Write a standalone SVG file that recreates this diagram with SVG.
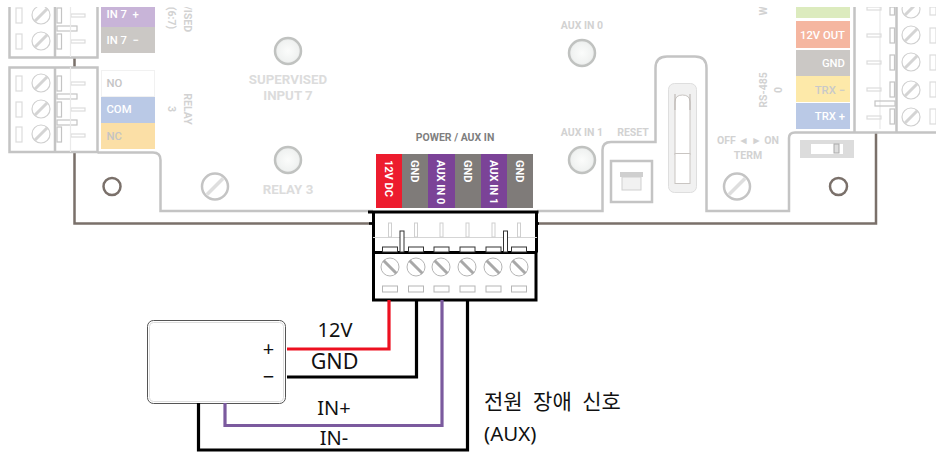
<svg xmlns="http://www.w3.org/2000/svg" width="936" height="452" viewBox="0 0 936 452">
<defs>
<radialGradient id="led"><stop offset="0" stop-color="#fbfcfb"/><stop offset="0.8" stop-color="#f0f2f1"/><stop offset="1" stop-color="#e2e4e3"/></radialGradient>
<g id="screwL"><circle r="9" fill="#fff" stroke="#d0d0d0" stroke-width="1.200"/><path d="M-6.500 6.500L6.500-6.500" stroke="#d4d4d4" stroke-width="3"/></g>
<g id="screwB"><circle r="9" fill="#fff" stroke="#b5b5b5" stroke-width="1"/><path d="M-6.500-6.500L6.500 6.500" stroke="#a8a8a8" stroke-width="3"/></g>
</defs>
<style>
text{font-family:"Roboto","Liberation Sans",sans-serif;font-weight:500}
.w{font-family:"Noto Sans","Noto Sans CJK KR",sans-serif;font-weight:400;font-size:20px;fill:#111}
.f{fill:none;stroke:#c4c4c4;stroke-width:2.500}
.b{fill:none;stroke:#7a706a;stroke-width:2.500}
.t{fill:none;stroke:#dcdcdc;stroke-width:1.200}
.lab{font-size:11.300px;fill:#fff}
.pl{font-size:11px;font-weight:700;fill:#fff}
.g{fill:#dcdcdc;font-weight:700;text-anchor:middle;font-size:13.300px}
.g2{fill:#d2d2d2;font-weight:700;text-anchor:middle;font-size:10.500px}
.led{fill:url(#led);stroke:#c0c2c0;stroke-width:2.500}
</style>
<rect width="936" height="452" fill="#fff"/>
<g id="board-outline">
<path class="b" d="M74.500 58V67M74.500 152V223.500H373M537 223.500H876V132"/>
<path class="f" d="M97.500 152.500H153Q160.500 152.500 160.500 160V211H373M537 211H602.500V150Q602.500 142 611 142H655.500V68Q655.500 56.500 667 56.500H695Q706.500 56.500 706.500 68V211H789V138Q789 132.500 795 132.500H936"/>
<path class="f" d="M9.500 7V57.500H97.500V7M55 7V57.500M9.500 67.500H97.500V152H9.500ZM55 67.500V152M854.500 7V132M896.500 7V132"/>
</g>
<g id="left-terminal" class="t">
<rect x="16" y="8" width="6" height="15"/><rect x="16" y="34" width="6" height="15"/><rect x="16" y="76" width="6" height="15"/><rect x="16" y="102" width="6" height="15"/><rect x="16" y="127" width="6" height="15"/>
<g stroke="#c4c4c4"><rect x="57" y="8" width="4.500" height="15"/><rect x="57" y="34" width="4.500" height="15"/><rect x="57" y="76" width="4.500" height="15"/><rect x="57" y="102" width="4.500" height="15"/><rect x="57" y="127" width="4.500" height="15"/>
<rect x="57" y="26" width="20" height="5"/><rect x="57" y="94" width="20" height="5"/><rect x="57" y="120" width="20" height="5"/></g>
<rect x="71" y="14" width="14" height="3"/><rect x="71" y="40" width="14" height="3"/><rect x="71" y="82" width="14" height="3"/><rect x="71" y="108" width="14" height="3"/><rect x="71" y="134" width="14" height="3"/>
<path d="M70.500 7V57M70.500 67V152" stroke="#eaeaea"/>
<use href="#screwL" x="41" y="15"/><use href="#screwL" x="41" y="41"/><use href="#screwL" x="41" y="83"/><use href="#screwL" x="41" y="109"/><use href="#screwL" x="41" y="134"/>
</g>
<g id="left-labels">
<rect x="101" y="7" width="54" height="20" fill="#c8b4d8"/><rect x="101" y="27" width="54" height="26" fill="#cbc8c5"/>
<rect x="101.500" y="70.500" width="53" height="26" fill="#fff" stroke="#f1f1f1"/><rect x="101" y="97" width="54" height="26" fill="#bac9e6"/><rect x="101" y="123" width="54" height="26" fill="#fbdfa6"/>
<text class="lab" x="106.500" y="18" xml:space="preserve">IN 7  +</text><text class="lab" x="106.500" y="44" xml:space="preserve">IN 7  −</text>
<text class="lab" x="106.500" y="87" style="fill:#c4c4c4">NO</text><text class="lab" x="106.500" y="113">COM</text><text class="lab" x="106.500" y="140" style="fill:#c4c4c4">NC</text>
<text class="g2" transform="translate(184 19) rotate(90)">/ISED</text>
<text class="g2" transform="translate(168 18) rotate(90)">(6:7)</text>
<text class="g2" transform="translate(183.500 109) rotate(90)">RELAY</text>
<text class="g2" transform="translate(168 109) rotate(90)">3</text>
</g>
<g id="mount-left"><circle cx="112" cy="186.500" r="8.500" fill="#fff" stroke="#7a706a" stroke-width="2.500"/></g>
<g id="screw-relay"><circle cx="215" cy="186.500" r="13" fill="#fff" stroke="#c4c4c4" stroke-width="2.500"/><path d="M207 194.500L223 178.500" stroke="#dedede" stroke-width="3.500"/></g>
<g id="led-supervised"><circle class="led" cx="288" cy="51" r="13"/><text class="g" x="288" y="84">SUPERVISED</text><text class="g" x="288" y="100">INPUT 7</text></g>
<g id="led-relay"><circle class="led" cx="288" cy="160" r="13"/><text class="g" x="288" y="194">RELAY 3</text></g>
<g id="led-aux0"><circle class="led" cx="582" cy="53" r="13"/><text class="g2" x="582" y="29">AUX IN 0</text></g>
<g id="led-aux1"><circle class="led" cx="582" cy="160" r="13"/><text class="g2" x="582" y="136">AUX IN 1</text></g>
<g id="reset"><text class="g2" x="633" y="136">RESET</text><rect x="611" y="161" width="41" height="41" fill="#fff" stroke="#c4c4c4" stroke-width="2.500"/><rect x="620" y="172" width="23" height="5" fill="#cfcfcf"/><rect x="622" y="177" width="19" height="13" fill="#f1f1f1" stroke="#cfcfcf"/></g>
<g id="slider"><rect x="668.500" y="83.500" width="28" height="109" rx="6" fill="#f1f1f1" stroke="#dedede"/><path d="M675 155V102Q675 95 682.500 95Q690 95 690 102V155Z" fill="#fff" stroke="#c9c5c2"/><path d="M675 94V110M690 94V110" stroke="#b5afab"/><rect x="675" y="153.500" width="15" height="30" fill="#fff" stroke="#c9c5c2"/></g>
<g id="term"><text class="g2" x="748" y="144">OFF ◄ ► ON</text><text class="g2" x="748" y="159">TERM</text><circle cx="737" cy="186.500" r="13" fill="#fff" stroke="#c4c4c4" stroke-width="2.500"/><path d="M729 194.500L745 178.500" stroke="#dedede" stroke-width="3.500"/></g>
<g id="right-labels">
<rect x="796" y="7" width="54" height="11" fill="#dcebbe"/><rect x="796" y="21" width="54" height="27" fill="#f5b6a0"/><rect x="796" y="50" width="54" height="26" fill="#cbc8c5"/><rect x="796" y="76" width="54" height="26" fill="#fde9a9"/><rect x="796" y="103" width="54" height="26" fill="#bac9e6"/>
<text class="lab" x="845" y="39" text-anchor="end">12V OUT</text><text class="lab" x="845" y="67" text-anchor="end">GND</text><text class="lab" x="845" y="94" text-anchor="end" style="fill:#c9c9c9">TRX −</text><text class="lab" x="845" y="120" text-anchor="end">TRX +</text>
<text class="g2" transform="translate(767 90) rotate(-90)">RS-485</text><text class="g2" transform="translate(782 90) rotate(-90)">0</text><text class="g2" transform="translate(767 11) rotate(-90)">W</text>
</g>
<g id="right-terminal" class="t">
<path d="M880 7V129" stroke="#eaeaea"/>
<g stroke="#c4c4c4"><rect x="890" y="7" width="4.500" height="8"/><rect x="890" y="28" width="4.500" height="15"/><rect x="890" y="55" width="4.500" height="15"/><rect x="890" y="82" width="4.500" height="15"/><rect x="890" y="109" width="4.500" height="15"/>
<rect x="875" y="101" width="20" height="5"/></g>
<rect x="867" y="7" width="14" height="3"/><rect x="867" y="34" width="14" height="3"/><rect x="867" y="61" width="14" height="3"/><rect x="867" y="88" width="14" height="3"/><rect x="867" y="116" width="14" height="3"/>
<rect x="930" y="7" width="6" height="8"/><rect x="930" y="28" width="6" height="15"/><rect x="930" y="55" width="6" height="15"/><rect x="930" y="82" width="6" height="15"/><rect x="930" y="109" width="6" height="15"/>
<use href="#screwL" x="911" y="9"/><use href="#screwL" x="911" y="35"/><use href="#screwL" x="911" y="62"/><use href="#screwL" x="911" y="90"/><use href="#screwL" x="911" y="117"/>
</g>
<rect x="0" y="0" width="936" height="7" fill="#fff"/>
<g id="switch"><rect x="800" y="140" width="54" height="18" fill="#dcdcdc"/><rect x="811" y="144" width="32" height="10" fill="#fff"/><rect x="834" y="144" width="5" height="9" fill="#ddd" stroke="#aaa"/></g>
<g id="mount-right"><circle cx="838.500" cy="186.500" r="8.500" fill="#fff" stroke="#7a706a" stroke-width="2.500"/></g>
<g id="power-labels">
<text x="455" y="141" text-anchor="middle" font-size="10.500" fill="#7f7f7f" style="font-weight:700">POWER / AUX IN</text>
<rect x="376" y="154" width="26" height="54" fill="#ed1c2e"/><rect x="402" y="154" width="26" height="54" fill="#7f7b79"/><rect x="428" y="154" width="27" height="54" fill="#7b4397"/><rect x="455" y="154" width="26" height="54" fill="#7f7b79"/><rect x="481" y="154" width="26" height="54" fill="#7b4397"/><rect x="507" y="154" width="26" height="54" fill="#7f7b79"/>
<text class="pl" transform="translate(385 160) rotate(90)">12V DC</text>
<text class="pl" transform="translate(411 160) rotate(90)">GND</text>
<text class="pl" transform="translate(437 160) rotate(90)">AUX IN 0</text>
<text class="pl" transform="translate(464 160) rotate(90)">GND</text>
<text class="pl" transform="translate(490 160) rotate(90)">AUX IN 1</text>
<text class="pl" transform="translate(516 160) rotate(90)">GND</text>
</g>
<g id="connector-block">
<rect x="373.500" y="212" width="163" height="88" fill="#fff" stroke="none"/>
<path d="M368 212H538.500M373.500 212V252.500M536.500 212V252.500M373.500 252.500H536.500M373.500 252.500V300H536V252.500" fill="none" stroke="#000" stroke-width="3"/>
<path d="M369 223.500H373M537 223.500H539" stroke="#000" stroke-width="2.500"/>
<path d="M373 237.500H537" stroke="#d5d5d5" stroke-width="1"/>
<g fill="#fff" stroke="#cfcfcf" stroke-width="1"><rect x="388.500" y="223" width="3" height="14"/><rect x="414.500" y="223" width="3" height="14"/><rect x="440" y="223" width="3" height="14"/><rect x="466" y="223" width="3" height="14"/><rect x="492" y="223" width="3" height="14"/><rect x="517.500" y="223" width="3" height="14"/></g>
<g fill="#fff" stroke="#333" stroke-width="1"><rect x="400" y="231" width="4" height="21"/><rect x="503.500" y="231" width="4" height="21"/><rect x="382.500" y="247" width="15" height="5"/><rect x="408.500" y="247" width="15" height="5"/><rect x="434" y="247" width="15" height="5"/><rect x="460" y="247" width="15" height="5"/><rect x="486" y="247" width="15" height="5"/><rect x="511.500" y="247" width="15" height="5"/></g>
<use href="#screwB" x="390" y="267"/><use href="#screwB" x="416" y="267"/><use href="#screwB" x="441" y="267"/><use href="#screwB" x="467" y="267"/><use href="#screwB" x="493" y="267"/><use href="#screwB" x="519" y="267"/>
<g fill="#fff" stroke="#b5b5b5" stroke-width="1"><rect x="382.500" y="286" width="15" height="6"/><rect x="408.500" y="286" width="15" height="6"/><rect x="434" y="286" width="15" height="6"/><rect x="460" y="286" width="15" height="6"/><rect x="486" y="286" width="15" height="6"/><rect x="511.500" y="286" width="15" height="6"/></g>
</g>
<g id="device"><rect x="147.500" y="320.500" width="138" height="83" rx="6" fill="#fff" stroke="#555" stroke-width="1"/><rect x="149.500" y="322.500" width="134" height="79" rx="4" fill="none" stroke="#ddd" stroke-width="1"/>
<text class="w" x="268.500" y="356" text-anchor="middle">+</text><text class="w" x="268.500" y="384" text-anchor="middle">−</text></g>
<g id="connectors" fill="none" stroke-width="3.200">
<path d="M287 349H389V300" stroke="#ed1020"/>
<path d="M287 377H416.500V300" stroke="#000"/>
<path d="M225 403V425.500H442V300" stroke="#7b5a9e"/>
<path d="M198.500 403V450H467.500V300" stroke="#000"/>
</g>
<g id="wire-labels">
<text class="w" x="335" y="337" text-anchor="middle">12V</text><text class="w" x="334.500" y="369" text-anchor="middle" style="font-size:21.500px">GND</text><text class="w" x="334" y="415" text-anchor="middle">IN+</text><text class="w" x="334" y="445" text-anchor="middle">IN-</text>
<text class="w" x="484" y="409" style="font-size:21px;word-spacing:5px">전원 장애 신호</text><text class="w" x="484" y="441" style="font-size:20.500px">(AUX)</text>
</g>
</svg>
